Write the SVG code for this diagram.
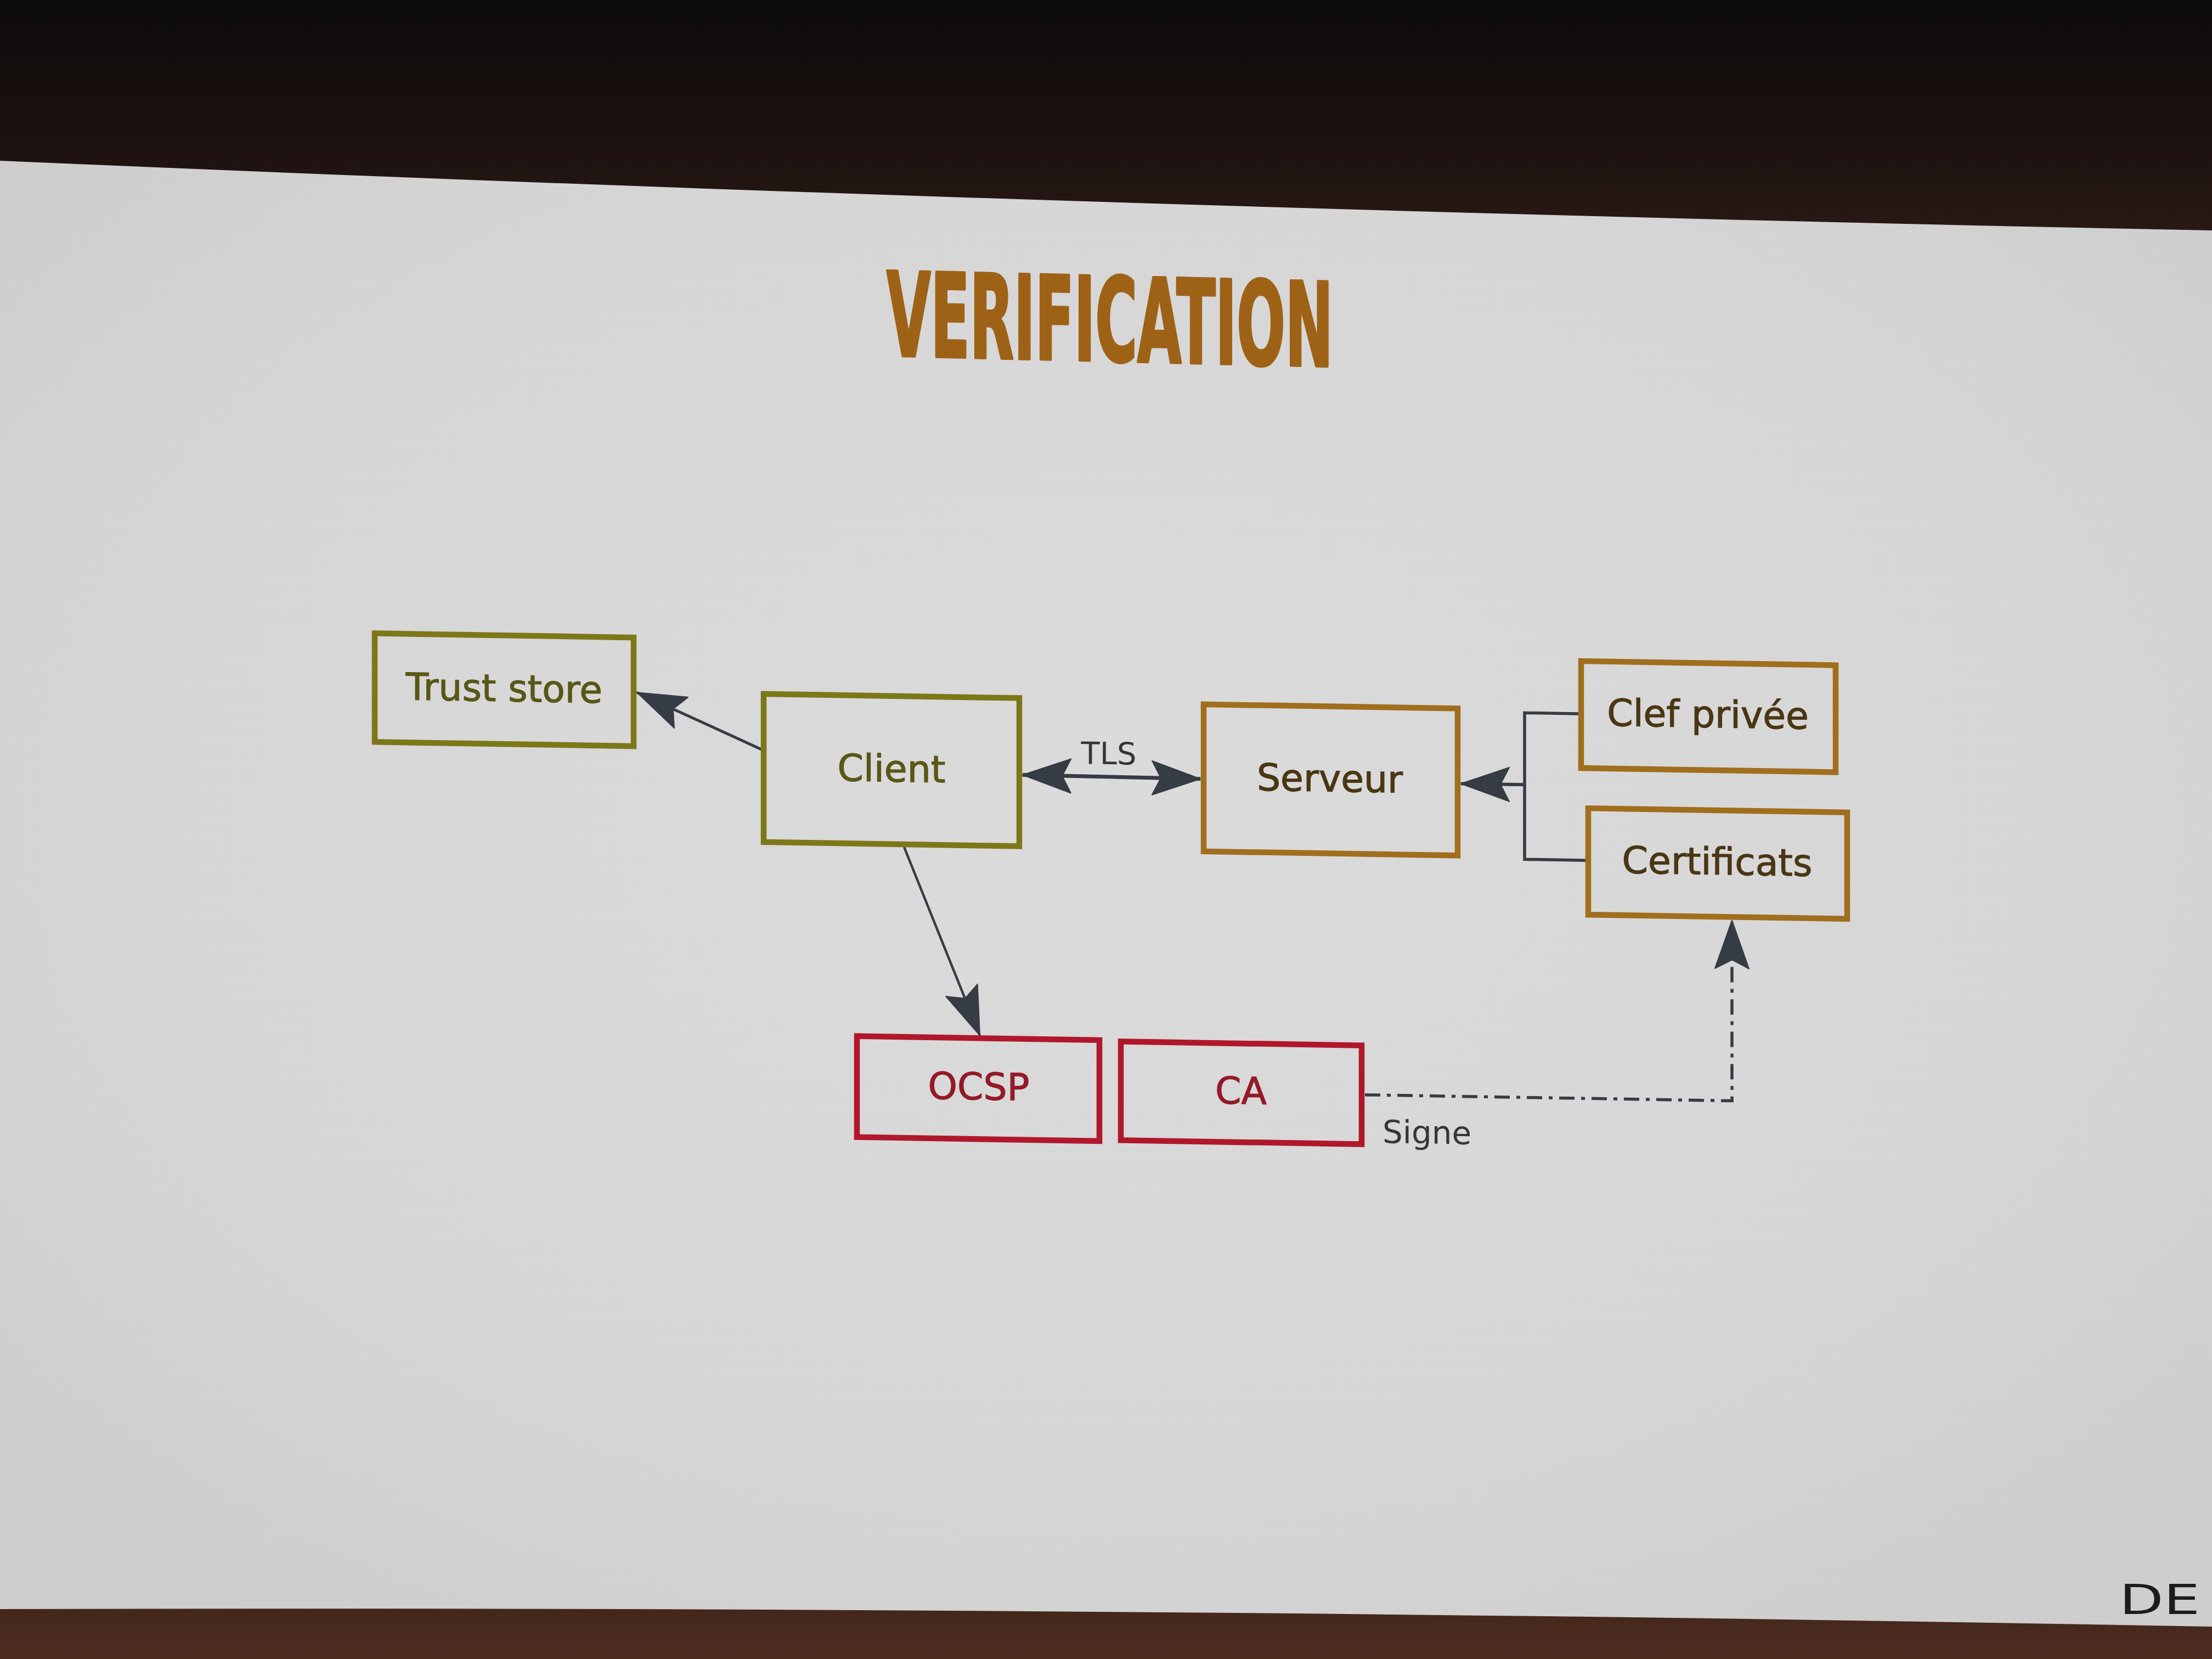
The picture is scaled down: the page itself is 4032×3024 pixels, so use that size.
<svg xmlns="http://www.w3.org/2000/svg" width="4032" height="3024" viewBox="0 0 4032 3024">
  <defs>
    <linearGradient id="topDark" x1="0" y1="0" x2="0" y2="1">
      <stop offset="0" stop-color="#0d0b0b"/>
      <stop offset="0.6" stop-color="#1c1210"/>
      <stop offset="1" stop-color="#2a1a14"/>
    </linearGradient>
    <linearGradient id="botDark" x1="0" y1="0" x2="0" y2="1">
      <stop offset="0" stop-color="#3e2219"/>
      <stop offset="1" stop-color="#4e2d21"/>
    </linearGradient>
    <radialGradient id="slideBg" cx="0.5" cy="0.45" r="0.65">
      <stop offset="0" stop-color="#dbdbdb"/>
      <stop offset="0.7" stop-color="#d6d6d6"/>
      <stop offset="1" stop-color="#cecece"/>
    </radialGradient>
    <marker id="arrow" viewBox="-92 -36 96 72" refX="0" refY="0" markerWidth="96" markerHeight="72" markerUnits="userSpaceOnUse" orient="auto-start-reverse">
      <path d="M0,0 L-88,-31 L-72,0 L-88,31 Z" fill="#363c44" stroke="#363c44" stroke-width="2" stroke-linejoin="round"/>
    </marker>
    <style>
      .box { fill: none; stroke-width: 10.5; }
      .olive { stroke: #7d7718; }
      .brown { stroke: #a06e1d; }
      .red { stroke: #b0172b; }
      .lbl { font-family: "DejaVu Sans", "Liberation Sans", sans-serif; font-size: 68px; text-anchor: middle; stroke-width: 1.2; }
      .tOlive { fill: #5a5616; stroke: #5a5616; }
      .tBrown { fill: #4a3614; stroke: #4a3614; }
      .tRed { fill: #931a28; stroke: #931a28; }
      .conn { fill: none; stroke: #363c44; }
      .edgeLbl { font-family: "DejaVu Sans", "Liberation Sans", sans-serif; fill: #363636; }
    </style>
  </defs>

  <!-- room / screen background -->
  <rect x="0" y="0" width="4032" height="440" fill="url(#topDark)"/>
  <rect x="0" y="2880" width="4032" height="144" fill="url(#botDark)"/>
  <path d="M0,293 Q2016,380 4032,420 L4032,2965 Q2016,2927 0,2933 Z" fill="url(#slideBg)"/>

  <!-- title -->
  <g id="title" transform="matrix(1 0.0245 0 1 0 -39.6)">
    <text x="1616" y="648" textLength="814" lengthAdjust="spacingAndGlyphs" font-family="'Liberation Sans Narrow', 'DejaVu Sans Condensed', 'DejaVu Sans', sans-serif" font-weight="bold" font-size="212" fill="#9e6216" stroke="#9e6216" stroke-width="5" stroke-linejoin="round">VERIFICATION</text>
  </g>

  <g id="diagram" transform="matrix(1 0.0162 0 1 0 -32.66)">
    <g id="connectors">
      <path id="c-client-trust" class="conn" stroke-width="5" d="M1392,1378 L1161,1276" marker-end="url(#arrow)"/>
      <path id="c-client-ocsp" class="conn" stroke-width="4.5" d="M1648,1550 L1786,1891" marker-end="url(#arrow)"/>
      <path id="c-tls" class="conn" stroke-width="7" d="M1864,1415 L2188,1417" marker-start="url(#arrow)" marker-end="url(#arrow)"/>
      <text class="edgeLbl" x="2021" y="1393" font-size="56" text-anchor="middle">TLS</text>
      <path id="c-bracket" class="conn" stroke-width="5.5" d="M2877,1287 H2779 V1554 H2890"/>
      <path id="c-bracket-serveur" class="conn" stroke-width="6" d="M2779,1418 H2663" marker-end="url(#arrow)"/>
      <path id="c-ca-cert" class="conn" stroke-width="5.5" stroke-dasharray="28 12 7 12" d="M2488,1988 H3157 V1659" marker-end="url(#arrow)"/>
      <text class="edgeLbl" x="2520" y="2075" font-size="58">Signe</text>
    </g>

    <g id="node-truststore">
      <rect class="box olive" x="683" y="1176" width="472" height="198"/>
      <text class="lbl tOlive" x="919" y="1296">Trust store</text>
    </g>
    <g id="node-client">
      <rect class="box olive" x="1392" y="1275" width="466" height="270"/>
      <text class="lbl tOlive" x="1625" y="1431">Client</text>
    </g>
    <g id="node-serveur">
      <rect class="box brown" x="2194" y="1281" width="463" height="268"/>
      <text class="lbl tBrown" x="2424" y="1436">Serveur</text>
    </g>
    <g id="node-clef">
      <rect class="box brown" x="2882" y="1191" width="464" height="195"/>
      <text class="lbl tBrown" x="3113" y="1308">Clef privée</text>
    </g>
    <g id="node-certificats">
      <rect class="box brown" x="2895" y="1459" width="472" height="194"/>
      <text class="lbl tBrown" x="3130" y="1576">Certificats</text>
    </g>
    <g id="node-ocsp">
      <rect class="box red" x="1562" y="1896" width="442" height="184"/>
      <text class="lbl tRed" x="1784" y="2008">OCSP</text>
    </g>
    <g id="node-ca">
      <rect class="box red" x="2043" y="1898" width="439" height="180"/>
      <text class="lbl tRed" x="2262" y="2008">CA</text>
    </g>
  </g>

  <!-- corner logo fragment -->
  <text x="3863" y="2942" textLength="147" lengthAdjust="spacingAndGlyphs" font-family="'DejaVu Sans', sans-serif" font-size="74" fill="#1c1c1c">DE</text>
</svg>
